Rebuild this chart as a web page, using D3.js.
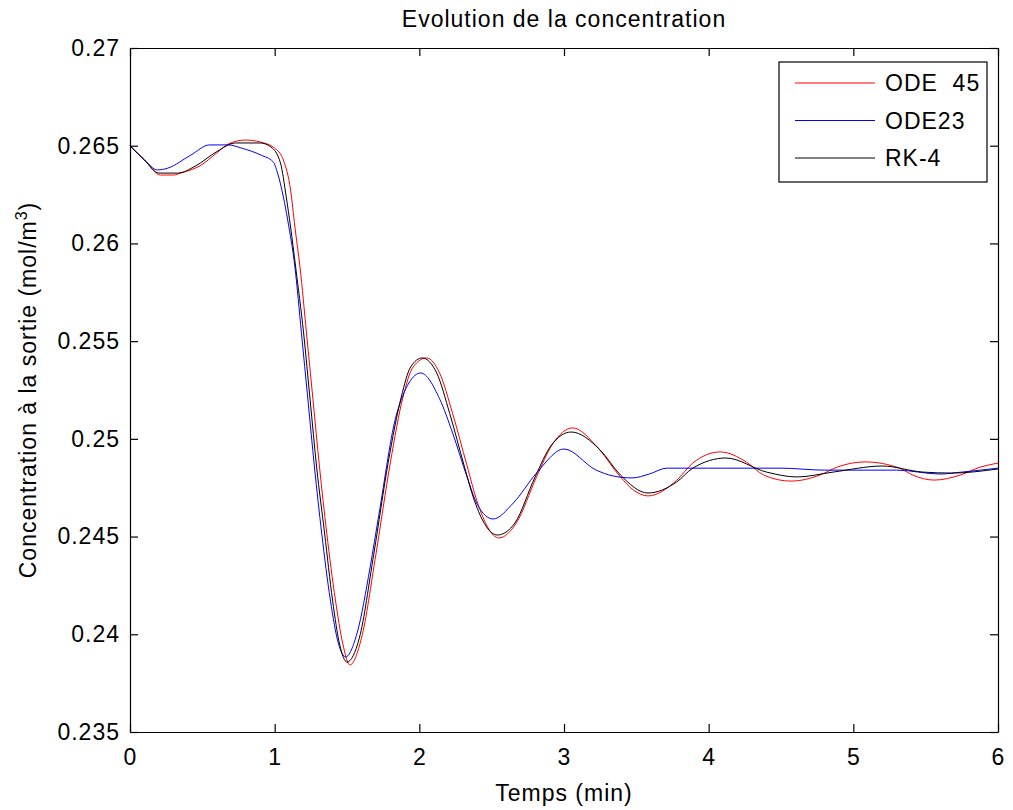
<!DOCTYPE html>
<html>
<head>
<meta charset="utf-8">
<script src="https://cdn.jsdelivr.net/npm/d3@7"></script>
<style>
  body { margin: 0; background: #fff; }
  text { font-family: "Liberation Sans", Arial, sans-serif; }
</style>
</head>
<body>
<script>
// time (min) and outlet concentration (mol/m3)
var tOde45 = [0, 0.1, 0.21, 0.3, 0.35, 0.49, 0.6, 0.68, 0.8, 0.9, 1.0, 1.06, 1.11, 1.14, 1.175, 1.22, 1.265, 1.31, 1.36, 1.42, 1.47, 1.52, 1.6, 1.7, 1.8, 1.887, 1.957, 2.05, 2.14, 2.23, 2.33, 2.4, 2.55, 2.67, 2.81, 2.92, 3.06, 3.23, 3.39, 3.48, 3.58, 3.78, 3.89, 4.08, 4.26, 4.38, 4.57, 4.77, 4.89, 5.08, 5.32, 5.41, 5.56, 5.74, 5.88, 6.0];
var cOde45 = [0.265, 0.26427, 0.2635, 0.2635, 0.2636, 0.264, 0.26463, 0.26509, 0.26529, 0.26519, 0.26488, 0.26427, 0.26273, 0.26084, 0.25879, 0.25542, 0.25199, 0.24856, 0.24518, 0.24175, 0.23955, 0.23843, 0.2398, 0.2441, 0.2488, 0.25214, 0.25368, 0.25414, 0.25337, 0.2513, 0.24862, 0.24678, 0.24493, 0.24569, 0.24805, 0.24972, 0.25056, 0.24958, 0.24805, 0.24738, 0.24708, 0.24789, 0.24876, 0.24933, 0.24882, 0.24815, 0.24784, 0.24815, 0.24856, 0.24882, 0.2485, 0.24815, 0.24789, 0.24815, 0.24856, 0.24876];

var tOde23 = [0, 0.1, 0.19, 0.26, 0.42, 0.55, 0.68, 0.77, 0.905, 0.99, 1.02, 1.06, 1.09, 1.14, 1.185, 1.23, 1.275, 1.325, 1.385, 1.44, 1.49, 1.57, 1.66, 1.72, 1.845, 2.01, 2.14, 2.23, 2.33, 2.4, 2.51, 2.65, 2.81, 3.0, 3.22, 3.34, 3.47, 3.59, 3.71, 4.0, 4.5, 4.8, 5.3, 5.6, 5.75, 6.0];
var cOde23 = [0.265, 0.26427, 0.26376, 0.26385, 0.26452, 0.26504, 0.26504, 0.26488, 0.26452, 0.26417, 0.2636, 0.26238, 0.2612, 0.25879, 0.25542, 0.25199, 0.24856, 0.24518, 0.24175, 0.23955, 0.23884, 0.24007, 0.24344, 0.2461, 0.25132, 0.25337, 0.25205, 0.2503, 0.24805, 0.24665, 0.2459, 0.24672, 0.24825, 0.24948, 0.24841, 0.2481, 0.248, 0.2482, 0.2485, 0.2485, 0.2485, 0.2484, 0.2484, 0.2482, 0.2483, 0.2485];

var tRk4 = [0, 0.1, 0.2, 0.33, 0.45, 0.6, 0.73, 0.9, 0.975, 1.04, 1.08, 1.11, 1.145, 1.2, 1.245, 1.29, 1.345, 1.4, 1.45, 1.5, 1.585, 1.685, 1.785, 1.875, 1.94, 2.02, 2.12, 2.21, 2.31, 2.38, 2.54, 2.66, 2.8, 2.91, 3.05, 3.25, 3.39, 3.58, 3.78, 3.89, 4.12, 4.4, 4.61, 4.86, 5.2, 5.48, 5.68, 6.0];
var cRk4 = [0.265, 0.26427, 0.2636, 0.2636, 0.26395, 0.2647, 0.26514, 0.26514, 0.26493, 0.26412, 0.26238, 0.26084, 0.25879, 0.25542, 0.25199, 0.24856, 0.24518, 0.24175, 0.23945, 0.23858, 0.2398, 0.2441, 0.2488, 0.25214, 0.25368, 0.25414, 0.25337, 0.2513, 0.24862, 0.24685, 0.24508, 0.24569, 0.24805, 0.24965, 0.25035, 0.24943, 0.24815, 0.24723, 0.2478, 0.2485, 0.24902, 0.2483, 0.24805, 0.2483, 0.24861, 0.2483, 0.24825, 0.24846];

var seriesNames = ['ODE  45', 'ODE23', 'RK-4'];
var seriesColors = ['#ff0000', '#0000ff', '#000000'];
var xTicks = [0, 1, 2, 3, 4, 5, 6];
var yTicks = [0.235, 0.24, 0.245, 0.25, 0.255, 0.26, 0.265, 0.27];

var width = 1013, height = 810;
var margin = {left: 130, right: 15, top: 48, bottom: 78};
var w = width - margin.left - margin.right;
var h = height - margin.top - margin.bottom;
var fontSize = 23;

var svg = d3.select('body').append('svg')
  .attr('width', width)
  .attr('height', height);

var x = d3.scaleLinear().domain([0, 6]).range([0, w]);
var y = d3.scaleLinear().domain([0.235, 0.27]).range([h, 0]);

var g = svg.append('g')
  .attr('transform', 'translate(' + margin.left + ',' + margin.top + ')');

// curves
var series = [
  {t: tOde45, c: cOde45},
  {t: tOde23, c: cOde23},
  {t: tRk4, c: cRk4}
];
var line = d3.line()
  .x(function(d) { return x(d[0]); })
  .y(function(d) { return y(d[1]); })
  .curve(d3.curveMonotoneX);

g.selectAll('path.curve')
  .data(series)
  .enter()
  .append('path')
  .attr('class', 'curve')
  .attr('fill', 'none')
  .attr('stroke', function(d, i) { return seriesColors[i]; })
  .attr('stroke-width', 1)
  .attr('d', function(d) { return line(d3.zip(d.t, d.c)); });

// axes, matlab style: ticks inside on all 4 sides
var tickLen = 8;
var fmt = function(d) { return String(+d.toFixed(3)); };

g.append('g')
  .attr('transform', 'translate(0,' + h + ')')
  .call(d3.axisBottom(x).tickValues(xTicks).tickSizeInner(-tickLen).tickSizeOuter(0).tickPadding(17).tickFormat(fmt));
g.append('g')
  .call(d3.axisTop(x).tickValues(xTicks).tickSizeInner(-tickLen).tickSizeOuter(0).tickFormat(''));
g.append('g')
  .call(d3.axisLeft(y).tickValues(yTicks).tickSizeInner(-tickLen).tickSizeOuter(0).tickPadding(10).tickFormat(fmt));
g.append('g')
  .attr('transform', 'translate(' + w + ',0)')
  .call(d3.axisRight(y).tickValues(yTicks).tickSizeInner(-tickLen).tickSizeOuter(0).tickFormat(''));

g.selectAll('.domain').attr('stroke', '#000').attr('stroke-width', 1.2);
g.selectAll('.tick line').attr('stroke', '#000').attr('stroke-width', 1.2);
g.selectAll('.tick text')
  .attr('fill', '#000')
  .style('font-size', fontSize + 'px')
  .style('letter-spacing', '1px');

// title and labels
svg.append('text')
  .attr('x', margin.left + w / 2)
  .attr('y', 27)
  .attr('text-anchor', 'middle')
  .style('font-size', fontSize + 'px')
  .style('letter-spacing', '1px')
  .text('Evolution de la concentration');

svg.append('text')
  .attr('x', margin.left + w / 2)
  .attr('y', 801)
  .attr('text-anchor', 'middle')
  .style('font-size', fontSize + 'px')
  .style('letter-spacing', '1px')
  .text('Temps (min)');

var ylab = svg.append('text')
  .attr('transform', 'translate(36,' + (margin.top + h / 2) + ') rotate(-90)')
  .attr('text-anchor', 'middle')
  .style('font-size', fontSize + 'px')
  .style('letter-spacing', '1px');
ylab.append('tspan').text('Concentration à la sortie (mol/m');
ylab.append('tspan').attr('dy', -9).style('font-size', '16px').text('3');
ylab.append('tspan').attr('dy', 9).text(')');

// legend
var legend = svg.append('g').attr('transform', 'translate(779,62)');
legend.append('rect')
  .attr('width', 208)
  .attr('height', 120)
  .attr('fill', '#fff')
  .attr('stroke', '#000')
  .attr('stroke-width', 1.2);
var item = legend.selectAll('g.item')
  .data(seriesNames)
  .enter()
  .append('g')
  .attr('class', 'item')
  .attr('transform', function(d, i) { return 'translate(0,' + (21 + i * 37.5) + ')'; });
item.append('line')
  .attr('x1', 16).attr('x2', 96)
  .attr('stroke', function(d, i) { return seriesColors[i]; })
  .attr('stroke-width', 1);
item.append('text')
  .attr('x', 106)
  .attr('dy', '0.35em')
  .style('font-size', fontSize + 'px')
  .style('letter-spacing', '1px')
  .style('white-space', 'pre')
  .text(function(d) { return d; });
</script>
</body>
</html>
